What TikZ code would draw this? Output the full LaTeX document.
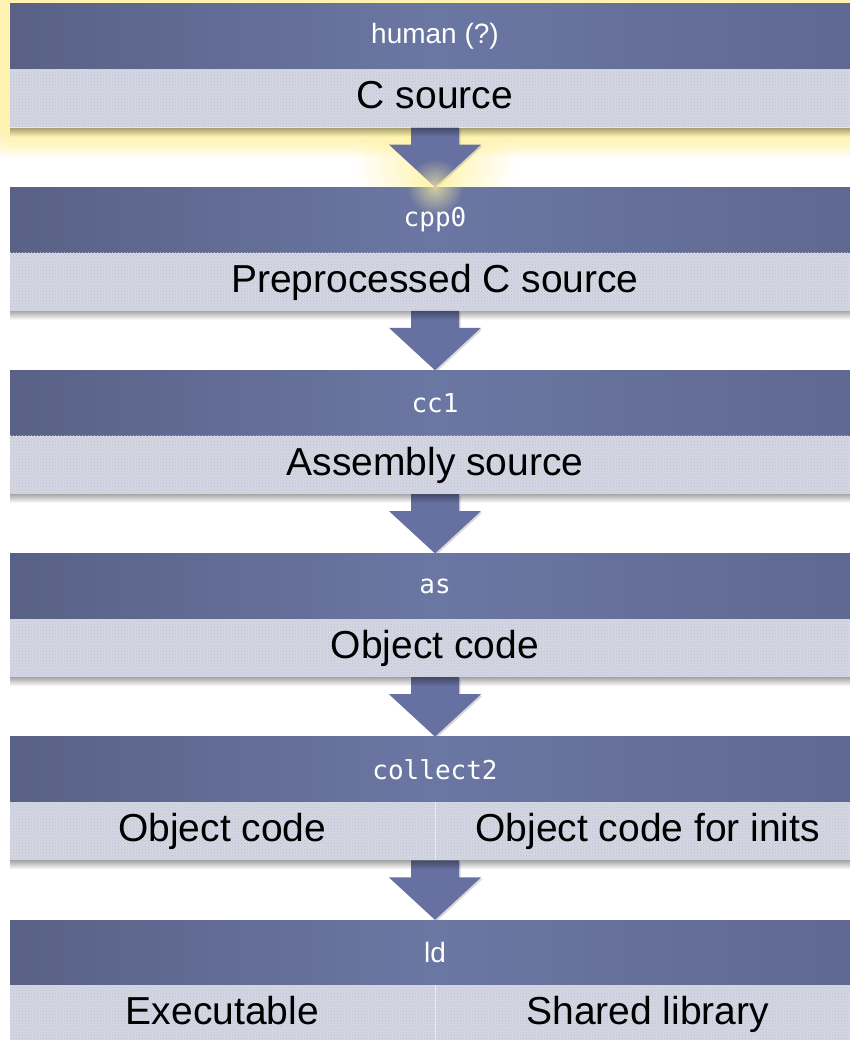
\documentclass[tikz,border=0pt]{standalone}
\usepackage{fontspec}
\setmainfont{Liberation Sans}
\newfontfamily\monof{DejaVu Sans Mono}
\usetikzlibrary{calc,patterns,fadings,shadows}
\definecolor{hdrL}{HTML}{596186}
\definecolor{hdrM}{HTML}{6B77A3}
\definecolor{hdrR}{HTML}{5F6890}
\definecolor{barfill}{HTML}{D5D7E3}
\definecolor{bardot}{HTML}{BCBFD0}
\definecolor{arrowc}{HTML}{6771A1}
\definecolor{glowc}{HTML}{FFF3A0}
\tikzfading[name=fuzzyc, inner color=transparent!0, outer color=transparent!100]
\newcommand\blkarrow[2]{%
  \fill[arrowc, drop shadow={opacity=0.3, shadow xshift=1.5pt, shadow yshift=-1.5pt}]
    ($(#1)+(-24,0)$) -- ($(#1)+(24,0)$) -- ($(#1)+(24,17)$) -- ($(#1)+(46,17)$)
    -- (#2) -- ($(#1)+(-46,17)$) -- ($(#1)+(-24,17)$) -- cycle;}
\newcommand\barshadow[1]{%
  \fill[black, opacity=0.35, path fading=south] ($(#1)+(-425,0)$) rectangle ($(#1)+(425,9)$);}
\begin{document}
\begin{tikzpicture}[x=1pt,y=-1pt,
  hdr/.style={rectangle, minimum width=850pt, minimum height=65pt, inner sep=0pt,
    left color=hdrL, right color=hdrR, middle color=hdrM, text=white,
    font=\fontsize{28}{28}\selectfont},
  monotext/.style={font=\monof\fontsize{26}{26}\selectfont},
  fullbar/.style={rectangle, minimum width=850pt, minimum height=58pt, inner sep=0pt,
    preaction={fill=barfill}, pattern=crosshatch dots, pattern color=bardot,
    text=black, font=\fontsize{39}{39}\selectfont, text height=28pt, text depth=7pt},
  halfbar/.style={fullbar, minimum width=425pt},
  divider/.style={white, opacity=0.6, line width=1pt}
]
\useasboundingbox (0,0) rectangle (850,1040);
\clip (0,0) rectangle (850,1040);
\fill[white] (0,0) rectangle (850,1040);

% glow around first block
\foreach \d in {2,4,...,30}
  \fill[glowc, opacity=0.11, rounded corners=\d] (10-\d,4-\d) rectangle (860+\d,127+\d);
\fill[glowc, opacity=0.9, path fading=fuzzyc] (435,160) circle (80);

% block 1
\node[hdr] (h0) at (435,36.5) {human (?)};
\node[fullbar, anchor=north] (b0) at (h0.south) {C source};
% block 2
\node[hdr, monotext] (h1) at (435,219.7) {cpp0};
\node[fullbar, anchor=north] (b1) at (h1.south) {Preprocessed C source};
% block 3
\node[hdr, monotext] (h2) at (435,402.9) {cc1};
\node[fullbar, anchor=north] (b2) at (h2.south) {Assembly source};
% block 4
\node[hdr, monotext] (h3) at (435,586.1) {as};
\node[fullbar, anchor=north] (b3) at (h3.south) {Object code};
% block 5
\node[hdr, monotext] (h4) at (435,769.3) {collect2};
\node[halfbar, anchor=north east] (b4a) at (h4.south) {Object code};
\node[halfbar, anchor=north west] (b4b) at (h4.south) {Object code for inits};
\draw[divider] (b4a.north east) -- (b4a.south east);
% block 6
\node[hdr] (h5) at (435,952.5) {ld};
\node[halfbar, anchor=north east] (b5a) at (h5.south) {Executable};
\node[halfbar, anchor=north west] (b5b) at (h5.south) {Shared library};
\draw[divider] (b5a.north east) -- (b5a.south east);

% arrows
\blkarrow{b0.south}{h1.north}
\blkarrow{b1.south}{h2.north}
\blkarrow{b2.south}{h3.north}
\blkarrow{b3.south}{h4.north}
\blkarrow{b4a.south east}{h5.north}

% shadows under bars
\barshadow{b0.south}
\barshadow{b1.south}
\barshadow{b2.south}
\barshadow{b3.south}
\barshadow{b4a.south east}

% glow at first arrow tip
\fill[glowc, opacity=0.7, path fading=fuzzyc] (h1.north) circle (28);
\end{tikzpicture}
\end{document}
